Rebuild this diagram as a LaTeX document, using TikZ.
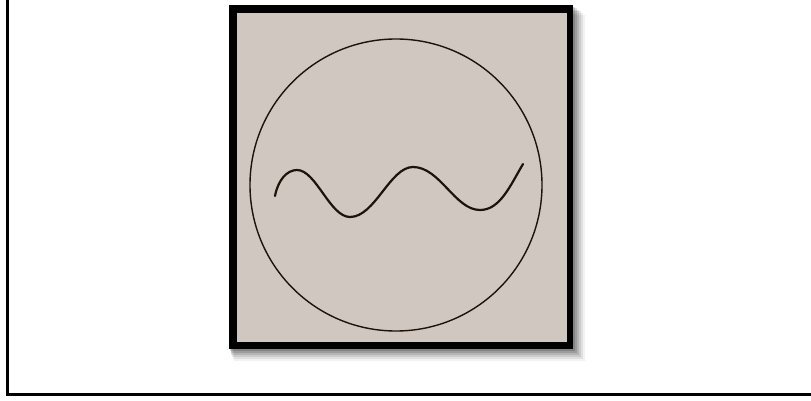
\documentclass[tikz,border=0pt]{standalone}
\begin{document}
\begin{tikzpicture}[x=1pt,y=-1pt,
  ink/.style={draw=black!85!brown, line cap=round},
  frameline/.style={draw=black, line width=3pt}]
\definecolor{paper}{RGB}{207,199,192}
\useasboundingbox (0,0) rectangle (811,401);
\fill[white] (0,0) rectangle (811,401);
% outer frame (left and bottom)
\draw[frameline] (7,0) -- (7,394.5) -- (811,394.5);
% soft shadow
\foreach \d/\o in {12/0.05,10/0.07,8/0.09,6/0.11,4/0.13,2/0.15}{
  \fill[black, opacity=\o] (229+\d*0.4,5+\d*0.8) rectangle (573+\d,349+\d);
}
% black mount
\fill[black] (229,5) rectangle (573,349);
% photo
\fill[paper] (237,13) rectangle (567,342);
% circle
\draw[ink, line width=1.4pt] (396,185) circle (146);
% wave
\draw[ink, line width=2.2pt]
  (275,196) .. controls (278,180) and (287,170) .. (297,170)
  .. controls (316,170) and (330,217) .. (350,217)
  .. controls (375,217) and (390,167) .. (413,167)
  .. controls (440,167) and (455,210) .. (480,210)
  .. controls (500,210) and (510,186) .. (523,164);
\end{tikzpicture}
\end{document}
